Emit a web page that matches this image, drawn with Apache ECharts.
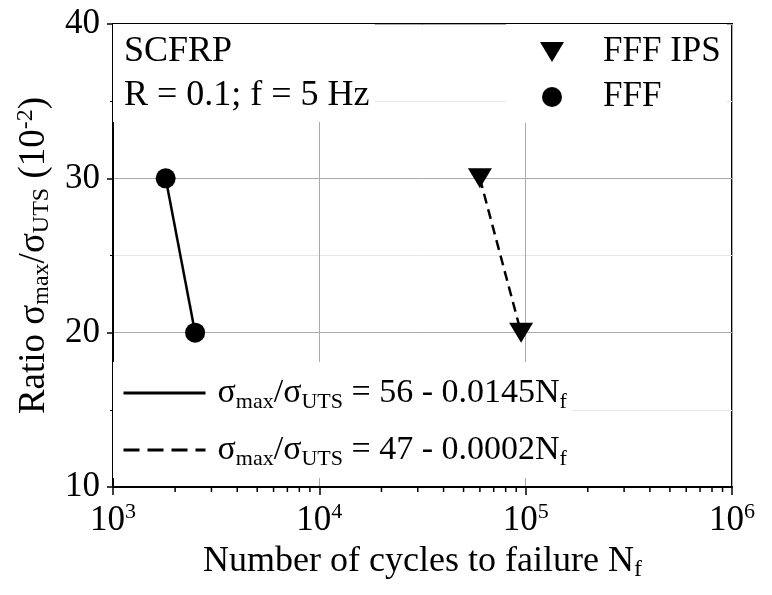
<!DOCTYPE html>
<html>
<head>
<meta charset="utf-8">
<script src="https://cdn.jsdelivr.net/npm/echarts@6/dist/echarts.min.js"></script>
<style>
  html, body { margin: 0; padding: 0; background: #fff; }
  #chart { width: 772px; height: 595px; }
</style>
</head>
<body>
<div id="chart"></div>
<script>
const fffCycles = [1800, 2500];
const fffRatio = [30, 20];
const ipsCycles = [60000, 95000];
const ipsRatio = [30, 20];
const decades = [1000, 10000, 100000];
const minorSteps = [2, 3, 4, 5, 6, 7, 8, 9];
const eqFFF = '56 - 0.0145N';
const eqIPS = '47 - 0.0002N';

const FONT = 'Liberation Serif';
const toPairs = (xs, ys) => xs.map((x, i) => [x, ys[i]]);
const minorTicksX = [];
decades.forEach(d => minorSteps.forEach(m => minorTicksX.push([d * m])));

const eqText = eq => '{t|σ}{sub|max}{t|/σ}{sub|UTS}{t| = ' + eq + '}{sub|f}';
const eqLabels = { eqFFF: eqText(eqFFF), eqIPS: eqText(eqIPS) };

const makeRich = (size, small) => ({
  t: { fontFamily: FONT, fontSize: size, color: '#000', lineHeight: 40 },
  sub: { fontFamily: FONT, fontSize: small, color: '#000', lineHeight: 14, verticalAlign: 'bottom' },
  sup: { fontFamily: FONT, fontSize: small, color: '#000', lineHeight: 14, verticalAlign: 'top' }
});
const richLegend = makeRich(34, 22);
const richTick = makeRich(35, 22);
const richTitle = makeRich(36, 24);
const richYTitle = makeRich(37, 24);

const chart = echarts.init(document.getElementById('chart'));

chart.setOption({
  backgroundColor: '#fff',
  animation: false,
  grid: {
    left: 113, right: 40, top: 24, bottom: 108,
    show: true, borderColor: '#000', borderWidth: 2, backgroundColor: 'transparent'
  },
  title: {
    text: 'SCFRP\nR = 0.1; f = 5 Hz',
    left: 113, top: 24,
    padding: [6, 5, 4, 11],
    backgroundColor: '#fff',
    textStyle: { fontFamily: FONT, fontSize: 36, fontWeight: 'normal', color: '#000', lineHeight: 44 }
  },
  legend: [
    {
      data: [
        { name: 'FFF IPS', icon: 'path://M0,0 L24,0 L12,20 Z' },
        { name: 'FFF', icon: 'circle' }
      ],
      orient: 'vertical',
      left: 506, top: 24,
      padding: [8, 6, 6, 34],
      backgroundColor: '#fff',
      itemWidth: 24, itemHeight: 20, itemGap: 5,
      textStyle: { fontFamily: FONT, fontSize: 35, color: '#000', lineHeight: 40, padding: [0, 0, 0, 34] }
    },
    {
      data: [
        { name: 'eqFFF', lineStyle: { width: 3, type: 'solid' } },
        { name: 'eqIPS', lineStyle: { width: 3, type: [16, 8] } }
      ],
      orient: 'vertical',
      left: 113, top: 362,
      padding: [14, 5, 8, 9],
      backgroundColor: '#fff',
      itemWidth: 82, itemHeight: 2, itemGap: 20,
      itemStyle: { opacity: 0 },
      formatter: name => eqLabels[name],
      textStyle: { padding: [0, 0, 0, 7], rich: richLegend }
    }
  ],
  xAxis: {
    type: 'log',
    logBase: 10,
    min: 1000,
    max: 1000000,
    name: '{t|Number of cycles to failure N}{sub|f}',
    nameLocation: 'middle',
    nameGap: 44,
    nameTextStyle: { rich: richTitle },
    axisLine: { lineStyle: { color: '#000', width: 2 } },
    axisTick: { show: true, length: 8, lineStyle: { color: '#000', width: 1.5 } },
    axisLabel: {
      margin: 14,
      formatter: v => '{t|10}{sup|' + Math.round(Math.log10(v)) + '}',
      rich: richTick
    },
    splitLine: { show: true, lineStyle: { color: '#aaa', width: 1 } }
  },
  yAxis: {
    type: 'value',
    min: 10,
    max: 40,
    interval: 10,
    name: '{t|Ratio σ}{sub|max}{t|/σ}{sub|UTS}{t| (10}{sup|-2}{t|)}',
    nameLocation: 'middle',
    nameGap: 57,
    nameTextStyle: { rich: richYTitle },
    axisLine: { lineStyle: { color: '#000', width: 2 } },
    axisTick: { show: true, length: 6, lineStyle: { color: '#000', width: 1.5 } },
    minorTick: { show: true, splitNumber: 2, length: 3, lineStyle: { color: '#000', width: 1 } },
    axisLabel: { margin: 13, fontFamily: FONT, fontSize: 35, color: '#000' },
    splitLine: { show: true, lineStyle: { color: '#aaa', width: 1 } },
    minorSplitLine: { show: true, lineStyle: { color: '#e6e6e6', width: 1 } }
  },
  series: [
    {
      name: 'eqFFF',
      type: 'line',
      data: toPairs(fffCycles, fffRatio),
      symbol: 'none',
      lineStyle: { color: '#000', width: 2.5, type: 'solid' },
      itemStyle: { color: '#000' },
      z: 3
    },
    {
      name: 'eqIPS',
      type: 'line',
      data: toPairs(ipsCycles, ipsRatio),
      symbol: 'none',
      lineStyle: { color: '#000', width: 2.5, type: [10, 6] },
      itemStyle: { color: '#000' },
      z: 3
    },
    {
      name: 'FFF',
      type: 'scatter',
      data: toPairs(fffCycles, fffRatio),
      symbol: 'circle',
      symbolSize: 20,
      itemStyle: { color: '#000', opacity: 1 },
      z: 4
    },
    {
      name: 'FFF IPS',
      type: 'scatter',
      data: toPairs(ipsCycles, ipsRatio),
      symbol: 'triangle',
      symbolRotate: 180,
      symbolSize: [24, 20],
      itemStyle: { color: '#000', opacity: 1 },
      z: 4
    },
    {
      name: 'minorTicks',
      type: 'custom',
      data: minorTicksX,
      silent: true,
      clip: false,
      renderItem: (params, api) => {
        const p = api.coord([api.value(0), 10]);
        return {
          type: 'line',
          shape: { x1: p[0], y1: p[1] + 1, x2: p[0], y2: p[1] + 5 },
          style: { stroke: '#000', lineWidth: 1.5 }
        };
      },
      z: 5
    }
  ]
});
</script>
</body>
</html>
